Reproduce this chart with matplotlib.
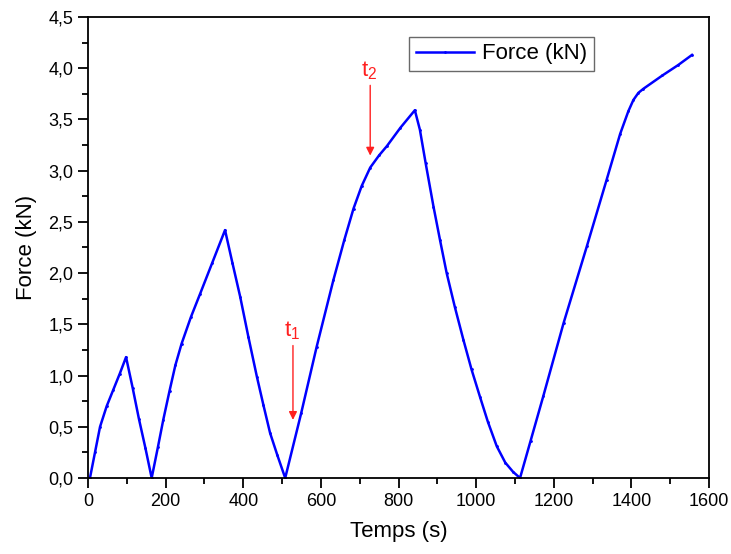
import numpy as np
import matplotlib
matplotlib.use("Agg")
import matplotlib.pyplot as plt
from matplotlib.ticker import MultipleLocator, FuncFormatter

plt.rcParams['font.family'] = ['Liberation Sans', 'DejaVu Sans']

# donnees
temps = [5, 18, 31, 48, 65, 82, 98, 115, 131, 148, 164,
         180, 194, 210, 225, 241, 265, 289, 320, 353,
         372, 392, 413, 435, 452, 469, 488, 508,
         549, 589, 632, 660, 684, 705, 727, 750, 770, 805, 842,
         855, 870, 890, 907, 924, 945, 967, 988, 1010, 1030, 1053, 1075, 1095, 1113,
         1140, 1173, 1225, 1285, 1336, 1371, 1392, 1405, 1418, 1431, 1480, 1520, 1556]
force = [0.0, 0.25, 0.50, 0.70, 0.86, 1.02, 1.18, 0.88, 0.58, 0.29, 0.0,
         0.30, 0.57, 0.85, 1.10, 1.31, 1.57, 1.80, 2.10, 2.42,
         2.10, 1.77, 1.38, 0.99, 0.71, 0.44, 0.22, 0.0,
         0.63, 1.28, 1.93, 2.32, 2.63, 2.85, 3.03, 3.15, 3.24, 3.42, 3.59,
         3.40, 3.07, 2.65, 2.32, 2.00, 1.67, 1.35, 1.06, 0.79, 0.55, 0.31, 0.15, 0.06, 0.0,
         0.36, 0.80, 1.51, 2.26, 2.91, 3.36, 3.58, 3.69, 3.76, 3.80, 3.93, 4.03, 4.13]

# fleches t1, t2 : (temps, debut, fin)
fleches = {"1": (528, 1.32, 0.54), "2": (727, 3.86, 3.12)}

rouge = '#ff2020'

fig = plt.figure(figsize=(7.31, 5.54), dpi=100)
ax = fig.add_axes([0.1204, 0.1372, 0.8496, 0.8321])

ax.plot(temps, force, color='blue', lw=1.8, marker='.', markersize=2, label='Force (kN)')

for k, (t, y0, y1) in fleches.items():
    ax.annotate('', xy=(t, y1), xytext=(t, y0),
                arrowprops=dict(arrowstyle='-|>', color=rouge, lw=1, mutation_scale=12))
    ax.text(t - 3, y0 + 0.01, r'$\mathregular{t_%s}$' % k, color=rouge, fontsize=16,
            ha='center', va='bottom')

ax.set_xlim(0, 1600)
ax.set_ylim(0, 4.5)
ax.xaxis.set_major_locator(MultipleLocator(200))
ax.xaxis.set_minor_locator(MultipleLocator(100))
ax.yaxis.set_major_locator(MultipleLocator(0.5))
ax.yaxis.set_minor_locator(MultipleLocator(0.25))
ax.yaxis.set_major_formatter(FuncFormatter(lambda v, p: f"{v:.1f}".replace('.', ',')))
ax.tick_params(which='both', direction='out', top=False, right=False, labelsize=13, width=1.3)
ax.tick_params(which='major', length=7)
ax.tick_params(which='minor', length=4)
for s in ax.spines.values():
    s.set_linewidth(1.3)

ax.set_xlabel('Temps (s)', fontsize=16, labelpad=8)
ax.set_ylabel('Force (kN)', fontsize=16, labelpad=8)

leg = ax.legend(loc='upper left', bbox_to_anchor=(0.517, 0.957), borderaxespad=0,
                fontsize=16, fancybox=False, edgecolor='#444444', handlelength=2.6,
                borderpad=0.3, handletextpad=0.4)
leg.get_frame().set_linewidth(1.0)

fig.savefig('out.png', dpi=100)
